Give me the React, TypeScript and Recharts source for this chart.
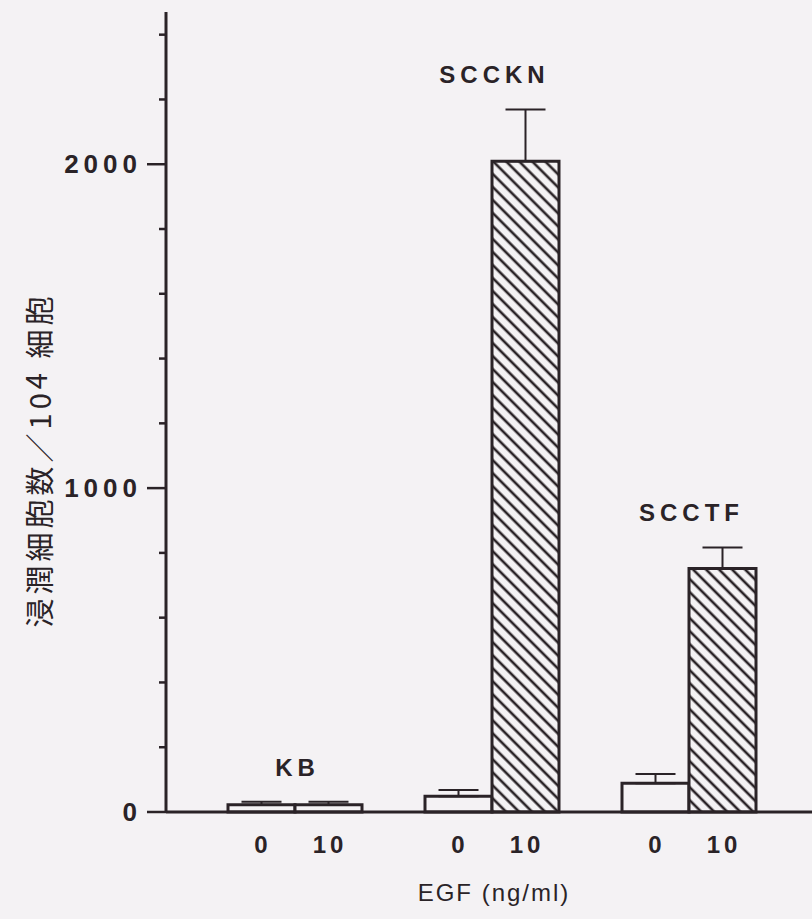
import React from 'react';
import { BarChart, Bar, XAxis, YAxis, ErrorBar, LabelList, Cell } from 'recharts';

// cell lines, EGF doses and invaded cells per 10^4 cells (mean, upper SD)
const cells = ['KB', 'SCCKN', 'SCCTF'];
const doses = ['0', '10'];
const noEgf = [22, 49, 89];
const noEgfErr = [10, 19, 28];
const withEgf = [22, 2009, 752];
const withEgfErr = [10, 160, 65];
const yTicks = [0, 200, 400, 600, 800, 1000, 1200, 1400, 1600, 1800, 2000, 2200, 2400];
const yLabelled = [0, 1000, 2000];

const INK = '#2a2327';
const BG = '#f4f2f4';
const BAR = 67;
const LATIN = '"Liberation Sans", Arial, sans-serif';
const CJK = '"Noto Sans CJK JP", "Noto Sans CJK SC", sans-serif';

const data = cells.map((cell, i) => ({
    cell,
    egf0: noEgf[i],
    egf0Err: [0, noEgfErr[i]],
    egf10: withEgf[i],
    egf10Err: [0, withEgfErr[i]],
}));

const YTick = (props: any) => {
    const { x, y, payload } = props;
    const major = yLabelled.includes(payload.value);
    return (
        <g>
            <line x1={x - (major ? 19 : 7)} x2={x} y1={y} y2={y} stroke={INK} strokeWidth={2.5} />
            {major && (
                <text x={x - 24} y={y} textAnchor="end" dominantBaseline="central"
                    fontFamily={LATIN} fontWeight={700} fontSize={26} letterSpacing={5} fill={INK}>
                    {payload.value}
                </text>
            )}
        </g>
    );
};

const XTick = (props: any) => {
    const { x, y } = props;
    return (
        <g>
            {doses.map((d, k) => (
                <text key={d} x={x + (k === 0 ? -BAR / 2 : BAR / 2) + 2} y={y + 32} textAnchor="middle"
                    dominantBaseline="central" fontFamily={LATIN} fontWeight={700} fontSize={24}
                    letterSpacing={4} fill={INK}>
                    {d}
                </text>
            ))}
        </g>
    );
};

const GroupLabel = (props: any) => {
    const vb = props.viewBox ?? props;
    const { x, y, height } = vb;
    const i = props.index;
    const perUnit = height / withEgf[i];
    const top = Math.max(noEgf[i] + noEgfErr[i], withEgf[i] + withEgfErr[i]);
    const base = y + height;
    return (
        <text x={x + 2.5} y={base - top * perUnit - 26} textAnchor="middle"
            fontFamily={LATIN} fontWeight={700} fontSize={24} letterSpacing={5} fill={INK}>
            {cells[i]}
        </text>
    );
};

const YTitle = () => (
    <text transform="translate(38, 462) rotate(-90)" textAnchor="middle" dominantBaseline="central"
        fontFamily={CJK} fontSize={29} fill={INK} textLength={331} lengthAdjust="spacing">
        浸潤細胞数／10<tspan dy={-4}>4</tspan><tspan dy={4}> 細胞</tspan>
    </text>
);

const XTitle = (props: any) => {
    const { x, y, width } = props.viewBox;
    return (
        <text x={x + width / 2 + 5} y={y + 80} textAnchor="middle" dominantBaseline="central"
            fontFamily={LATIN} fontSize={24} letterSpacing={2} fill={INK}>
            EGF (ng/ml)
        </text>
    );
};

export default function App() {
    return (
        <div style={{ position: 'absolute', left: 0, top: 0, width: 812, height: 919, background: BG }}>
            <BarChart width={812} height={919} data={data} barGap={0} barSize={BAR}
                margin={{ top: 12, right: 0, bottom: 0, left: 0 }}>
                <defs>
                    <pattern id="hatch" patternUnits="userSpaceOnUse" width={9.2} height={10}
                        patternTransform="rotate(-45)">
                        <rect width={9.2} height={10} fill={BG} />
                        <line x1={4.6} y1={0} x2={4.6} y2={10} stroke={INK} strokeWidth={2.6} />
                    </pattern>
                </defs>
                <XAxis dataKey="cell" padding={{ left: 30, right: 25 }} height={107}
                    axisLine={{ stroke: INK, strokeWidth: 3 }} tickLine={false} tickSize={0} tickMargin={0}
                    tick={<XTick />} interval={0} label={{ content: <XTitle /> }} />
                <YAxis width={166} domain={[0, 2470]} ticks={yTicks} type="number"
                    axisLine={{ stroke: INK, strokeWidth: 3 }} tickLine={false} tickSize={0} tickMargin={0}
                    tick={<YTick />} interval={0} label={{ content: <YTitle /> }} />
                <Bar dataKey="egf0" fill={BG} stroke={INK} strokeWidth={3} isAnimationActive={false}>
                    <ErrorBar dataKey="egf0Err" direction="y" width={20} stroke={INK} strokeWidth={2} />
                </Bar>
                <Bar dataKey="egf10" fill="url(#hatch)" stroke={INK} strokeWidth={3} isAnimationActive={false}>
                    {data.map((d, i) => (
                        // the KB bar is too short to show its hatching in the original
                        <Cell key={d.cell} fill={i === 0 ? BG : 'url(#hatch)'} />
                    ))}
                    <ErrorBar dataKey="egf10Err" direction="y" width={20} stroke={INK} strokeWidth={2} />
                    <LabelList dataKey="cell" content={<GroupLabel />} />
                </Bar>
            </BarChart>
        </div>
    );
}
